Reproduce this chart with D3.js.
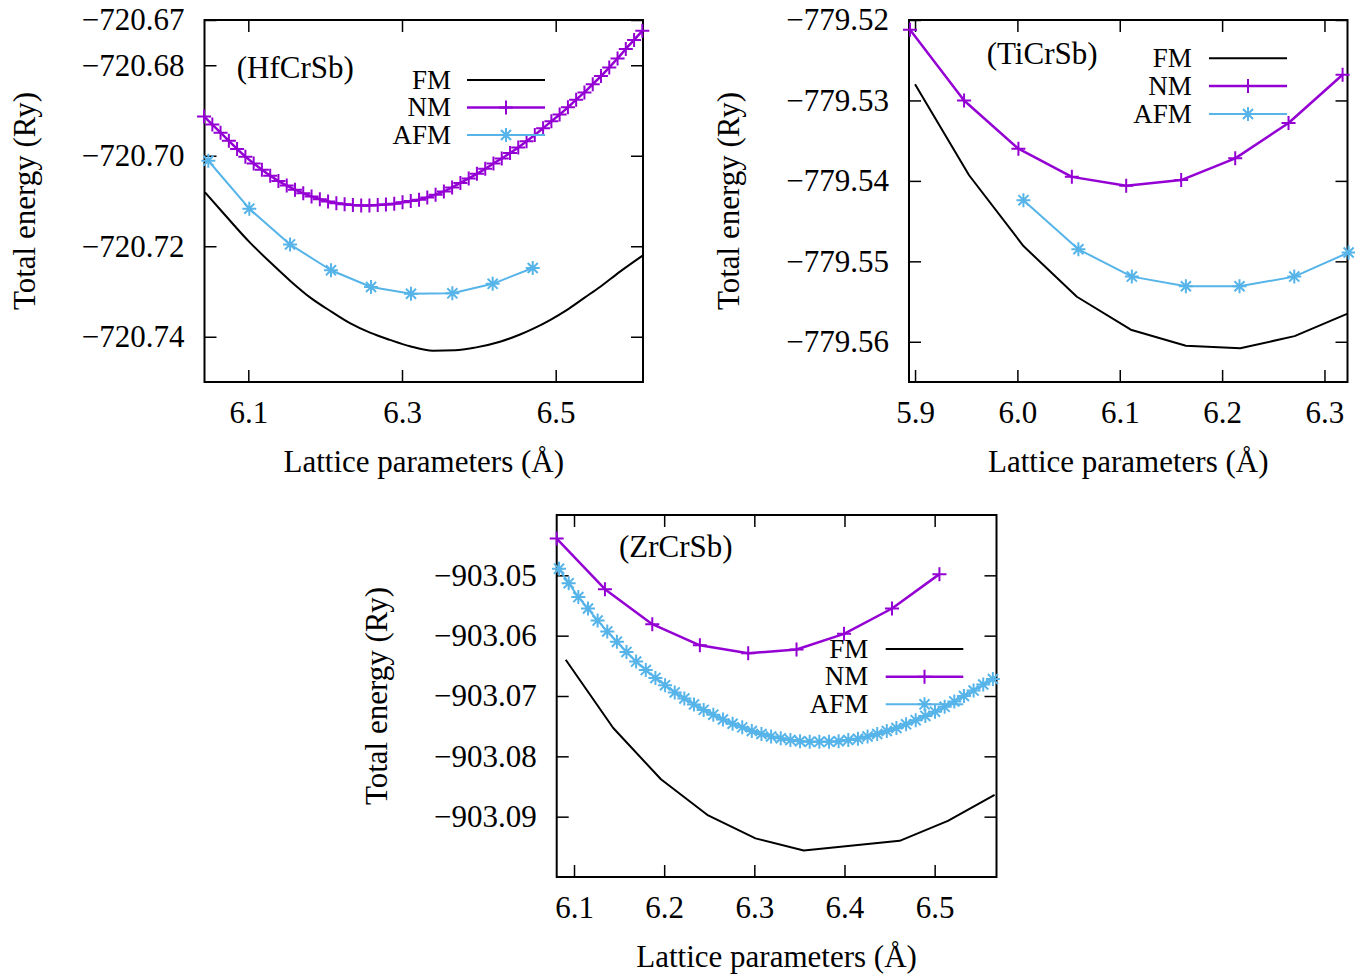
<!DOCTYPE html>
<html>
<head>
<meta charset="utf-8">
<script src="https://cdn.jsdelivr.net/npm/d3@7"></script>
<style>
  html, body { margin: 0; padding: 0; background: #fff; }
  svg text { font-family: "Liberation Serif", "Times New Roman", Times, serif; fill: #000; }
</style>
</head>
<body>
<svg id="chart" width="1355" height="975"></svg>
<script>
// ---------------- HfCrSb ----------------
const hfXRange = [6.0430, 6.6136];
const hfYRange = [-720.75, -720.67];
const hfXTicks = [6.1, 6.3, 6.5];
const hfYTicks = [-720.74, -720.72, -720.70, -720.68, -720.67];

const hfFmA = [6.0437, 6.0697, 6.1022, 6.1282, 6.1543, 6.1803, 6.2085, 6.2323, 6.2584, 6.2844, 6.3104, 6.3403,
  6.3690, 6.3950, 6.4275, 6.4536, 6.4709, 6.4926, 6.5143, 6.5381, 6.5576, 6.5837, 6.6136];
const hfFmE = [-720.7081, -720.7131, -720.7192, -720.7235, -720.7276, -720.7313, -720.7345, -720.7370, -720.7391,
  -720.7407, -720.7421, -720.7431, -720.7430, -720.7424, -720.7411, -720.7395, -720.7382, -720.7363, -720.7341,
  -720.7313, -720.7290, -720.7256, -720.7220];

const hfNmA = [6.0424, 6.0532, 6.0639, 6.0747, 6.0854, 6.0962, 6.1070, 6.1177, 6.1285, 6.1392, 6.1500, 6.1608,
  6.1715, 6.1823, 6.1931, 6.2038, 6.2146, 6.2253, 6.2361, 6.2469, 6.2576, 6.2684, 6.2791, 6.2899, 6.3007, 6.3114,
  6.3222, 6.3329, 6.3437, 6.3545, 6.3652, 6.3760, 6.3868, 6.3975, 6.4083, 6.4190, 6.4298, 6.4406, 6.4513, 6.4621,
  6.4728, 6.4836, 6.4944, 6.5051, 6.5159, 6.5266, 6.5374, 6.5482, 6.5589, 6.5697, 6.5805, 6.5912, 6.6020, 6.6127];
const hfNmE = [-720.6913, -720.6931, -720.6949, -720.6967, -720.6985, -720.7002, -720.7017, -720.7031, -720.7044,
  -720.7056, -720.7066, -720.7075, -720.7083, -720.7090, -720.7096, -720.7101, -720.7105, -720.7107, -720.7109,
  -720.7110, -720.7110, -720.7109, -720.7108, -720.7106, -720.7103, -720.7100, -720.7097, -720.7092, -720.7086,
  -720.7079, -720.7070, -720.7060, -720.7050, -720.7040, -720.7029, -720.7017, -720.7006, -720.6994, -720.6982,
  -720.6968, -720.6954, -720.6939, -720.6924, -720.6909, -720.6893, -720.6876, -720.6860, -720.6842, -720.6824,
  -720.6805, -720.6785, -720.6764, -720.6744, -720.6724];

const hfAfmA = [6.0480, 6.1013, 6.1543, 6.2076, 6.2597, 6.3117, 6.3655, 6.4180, 6.4701];
const hfAfmE = [-720.7011, -720.7117, -720.7196, -720.7253, -720.7290, -720.7305, -720.7304, -720.7283, -720.7248];

// ---------------- TiCrSb ----------------
const tiXRange = [5.8941, 6.3225];
const tiYRange = [-779.565, -779.52];
const tiXTicks = [5.9, 6.0, 6.1, 6.2, 6.3];
const tiYTicks = [-779.56, -779.55, -779.54, -779.53, -779.52];

const tiFmA = [5.9000, 5.9528, 6.0059, 6.0581, 6.1108, 6.1646, 6.2177, 6.2708, 6.3226];
const tiFmE = [-779.5280, -779.5393, -779.5481, -779.5544, -779.5585, -779.5605, -779.5608, -779.5593, -779.5565];

const tiNmA = [5.8951, 5.9479, 6.0010, 6.0532, 6.1063, 6.1600, 6.2128, 6.2649, 6.3177];
const tiNmE = [-779.5212, -779.5300, -779.5360, -779.5395, -779.5406, -779.5399, -779.5372, -779.5328, -779.5268];

const tiAfmA = [6.0059, 6.0596, 6.1118, 6.1646, 6.2170, 6.2705, 6.3236];
const tiAfmE = [-779.5424, -779.5485, -779.5519, -779.5531, -779.5531, -779.5519, -779.5489];

// ---------------- ZrCrSb ----------------
const zrXRange = [6.0808, 6.5686];
const zrYRange = [-903.10, -903.04];
const zrXTicks = [6.1, 6.2, 6.3, 6.4, 6.5];
const zrYTicks = [-903.09, -903.08, -903.07, -903.06, -903.05];

const zrFmA = [6.0908, 6.1435, 6.1964, 6.2488, 6.3013, 6.3548, 6.4612, 6.5147, 6.5665];
const zrFmE = [-903.0640, -903.0753, -903.0838, -903.0898, -903.0936, -903.0956, -903.0940, -903.0907, -903.0864];

const zrNmA = [6.0808, 6.1343, 6.1868, 6.2396, 6.2932, 6.3468, 6.3995, 6.4527, 6.5053];
const zrNmE = [-903.0439, -903.0523, -903.0581, -903.0616, -903.0629, -903.0623, -903.0597, -903.0555, -903.0498];

const zrAfmA = [6.0834, 6.0941, 6.1048, 6.1155, 6.1262, 6.1369, 6.1476, 6.1582, 6.1689, 6.1796, 6.1903, 6.2010,
  6.2117, 6.2224, 6.2331, 6.2438, 6.2545, 6.2652, 6.2759, 6.2866, 6.2972, 6.3079, 6.3186, 6.3293, 6.3400, 6.3507,
  6.3614, 6.3721, 6.3828, 6.3935, 6.4042, 6.4149, 6.4256, 6.4363, 6.4469, 6.4576, 6.4683, 6.4790, 6.4897, 6.5004,
  6.5111, 6.5218, 6.5325, 6.5432, 6.5539, 6.5646];
const zrAfmE = [-903.0489, -903.0513, -903.0536, -903.0555, -903.0575, -903.0593, -903.0610, -903.0627, -903.0643,
  -903.0657, -903.0670, -903.0682, -903.0694, -903.0704, -903.0714, -903.0723, -903.0731, -903.0739, -903.0746,
  -903.0752, -903.0758, -903.0763, -903.0767, -903.0770, -903.0773, -903.0775, -903.0776, -903.0776, -903.0776,
  -903.0775, -903.0773, -903.0771, -903.0767, -903.0763, -903.0758, -903.0753, -903.0747, -903.0740, -903.0733,
  -903.0726, -903.0718, -903.0709, -903.0700, -903.0691, -903.0681, -903.0672];

const seriesNames = ["FM", "NM", "AFM"];
const xTitle = "Lattice parameters (Å)";
const yTitle = "Total energy (Ry)";

// ---------------- styling ----------------
const styles = {
  FM:  { color: "#000000", width: 2,   marker: null },
  NM:  { color: "#9400d3", width: 2.5, marker: "plus" },
  AFM: { color: "#56b4e9", width: 2,   marker: "star" }
};
const MS = 7; // marker half size

function markerPath(kind) {
  const s = MS, d = MS * 0.72;
  if (kind === "plus") return `M${-s},0H${s}M0,${-s}V${s}`;
  return `M${-s},0H${s}M0,${-s}V${s}M${-d},${-d}L${d},${d}M${-d},${d}L${d},${-d}`;
}

const zip = (a, e) => a.map((v, i) => [v, e[i]]);

const panels = [
  {
    name: "(HfCrSb)", left: 204.5, right: 643, top: 20, bottom: 382,
    xDomain: hfXRange, yDomain: hfYRange, xTicks: hfXTicks, yTicks: hfYTicks,
    data: { FM: zip(hfFmA, hfFmE), NM: zip(hfNmA, hfNmE), AFM: zip(hfAfmA, hfAfmE) },
    smoothFM: true,
    title: [236.7, 78],
    legend: { textRight: 451, x1: 467, x2: 545, rows: [80, 107.5, 135] }
  },
  {
    name: "(TiCrSb)", left: 909, right: 1347.5, top: 20, bottom: 382,
    xDomain: tiXRange, yDomain: tiYRange, xTicks: tiXTicks, yTicks: tiYTicks,
    data: { FM: zip(tiFmA, tiFmE), NM: zip(tiNmA, tiNmE), AFM: zip(tiAfmA, tiAfmE) },
    smoothFM: false,
    title: [986.7, 63.5],
    legend: { textRight: 1191.7, x1: 1209, x2: 1287, rows: [58.3, 86, 114] }
  },
  {
    name: "(ZrCrSb)", left: 556.7, right: 996.5, top: 515, bottom: 877,
    xDomain: zrXRange, yDomain: zrYRange, xTicks: zrXTicks, yTicks: zrYTicks,
    data: { FM: zip(zrFmA, zrFmE), NM: zip(zrNmA, zrNmE), AFM: zip(zrAfmA, zrAfmE) },
    smoothFM: false,
    title: [619, 556.7],
    legend: { textRight: 868.3, x1: 885.7, x2: 963.3, rows: [649, 676.7, 704.3] }
  }
];

const svg = d3.select("#chart");
svg.append("rect").attr("width", 1355).attr("height", 975).attr("fill", "#fff");

const TICK = 12;
const TICK_FONT = 31;
const LEGEND_FONT = 27;

function styleAxis(sel, withLabels) {
  sel.select(".domain").remove();
  sel.selectAll(".tick line").attr("stroke", "#000").attr("stroke-width", 1.5);
  if (withLabels) {
    sel.selectAll(".tick text").attr("font-size", TICK_FONT).attr("fill", "#000");
  } else {
    sel.selectAll(".tick text").remove();
  }
}

panels.forEach(p => {
  const g = svg.append("g");
  const x = d3.scaleLinear().domain(p.xDomain).range([p.left, p.right]);
  const y = d3.scaleLinear().domain(p.yDomain).range([p.bottom, p.top]);

  // inward ticks on all four sides
  g.append("g").attr("transform", `translate(0,${p.bottom})`)
    .call(d3.axisBottom(x).tickValues(p.xTicks).tickSize(-TICK).tickPadding(19).tickFormat(d3.format(".1f")))
    .call(s => styleAxis(s, true));
  g.append("g").attr("transform", `translate(0,${p.top})`)
    .call(d3.axisTop(x).tickValues(p.xTicks).tickSize(-TICK))
    .call(s => styleAxis(s, false));
  g.append("g").attr("transform", `translate(${p.left},0)`)
    .call(d3.axisLeft(y).tickValues(p.yTicks).tickSize(-TICK).tickPadding(20).tickFormat(d3.format(".2f")))
    .call(s => styleAxis(s, true));
  g.append("g").attr("transform", `translate(${p.right},0)`)
    .call(d3.axisRight(y).tickValues(p.yTicks).tickSize(-TICK))
    .call(s => styleAxis(s, false));

  // frame
  g.append("rect")
    .attr("x", p.left).attr("y", p.top)
    .attr("width", p.right - p.left).attr("height", p.bottom - p.top)
    .attr("fill", "none").attr("stroke", "#000").attr("stroke-width", 2);

  // axis titles
  g.append("text")
    .attr("x", (p.left + p.right) / 2).attr("y", p.bottom + 90)
    .attr("text-anchor", "middle").attr("font-size", TICK_FONT)
    .text(xTitle);
  g.append("text")
    .attr("transform", `translate(${p.left - 180},${(p.top + p.bottom) / 2}) rotate(-90)`)
    .attr("text-anchor", "middle").attr("dy", "0.33em").attr("font-size", TICK_FONT)
    .text(yTitle);

  // compound label
  g.append("text").attr("x", p.title[0]).attr("y", p.title[1])
    .attr("font-size", TICK_FONT).text(p.name);

  // data series
  seriesNames.forEach(name => {
    const st = styles[name];
    const pts = p.data[name];
    const line = d3.line().x(d => x(d[0])).y(d => y(d[1]));
    if (name === "FM" && p.smoothFM) line.curve(d3.curveMonotoneX);
    g.append("path").datum(pts)
      .attr("d", line)
      .attr("fill", "none").attr("stroke", st.color)
      .attr("stroke-width", st.width).attr("stroke-linejoin", "round");
    if (st.marker) {
      g.append("g").selectAll("path").data(pts).join("path")
        .attr("transform", d => `translate(${x(d[0])},${y(d[1])})`)
        .attr("d", markerPath(st.marker))
        .attr("fill", "none").attr("stroke", st.color).attr("stroke-width", 2);
    }
  });

  // legend
  const L = p.legend;
  seriesNames.forEach((name, i) => {
    const st = styles[name];
    const ry = L.rows[i];
    g.append("text").attr("x", L.textRight).attr("y", ry + 8.5)
      .attr("text-anchor", "end").attr("font-size", LEGEND_FONT).text(name);
    g.append("line").attr("x1", L.x1).attr("x2", L.x2).attr("y1", ry).attr("y2", ry)
      .attr("stroke", st.color).attr("stroke-width", st.width);
    if (st.marker) {
      g.append("path").attr("transform", `translate(${(L.x1 + L.x2) / 2},${ry})`)
        .attr("d", markerPath(st.marker))
        .attr("fill", "none").attr("stroke", st.color).attr("stroke-width", 2);
    }
  });
});
</script>
</body>
</html>
